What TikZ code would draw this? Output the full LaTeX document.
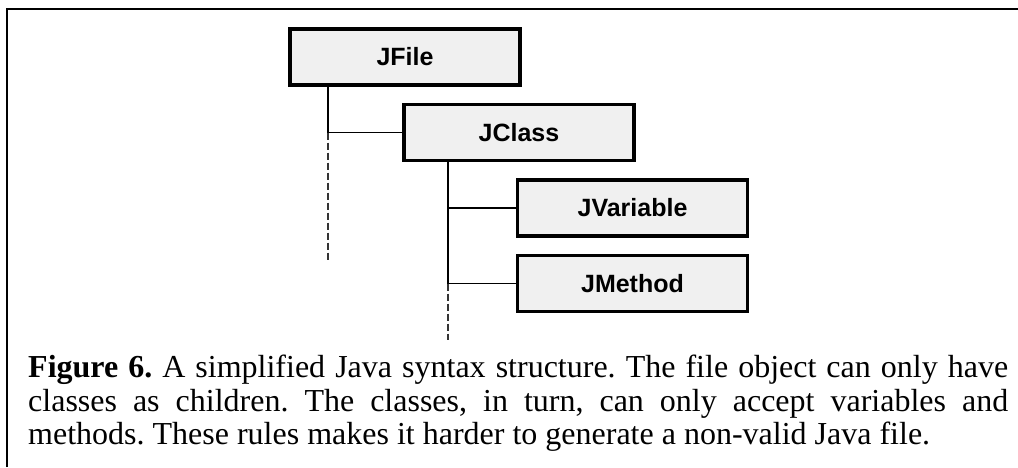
\documentclass[tikz,border=0pt]{standalone}
\usepackage{fontspec}
\setmainfont{Liberation Serif}
\newfontfamily\boxfont{Liberation Sans}
\usetikzlibrary{calc}

\begin{document}
\begin{tikzpicture}[x=1pt, y=-1pt,
    jbox/.style={draw, line width=3.5pt, fill=gray!12, inner sep=0pt,
        minimum width=230pt, minimum height=56pt,
        font=\boxfont\bfseries\fontsize{25}{30}\selectfont},
    link/.style={line width=1.5pt},
    open/.style={line width=1.5pt, dash pattern=on 7pt off 3pt, black!80}]
    \useasboundingbox (0,0) rectangle (1018,467);
    % frame
    \draw[line width=1.5pt] (7,467) -- (7,9) -- (1018,9);
    % the syntax tree
    \node[jbox] (jfile) at (405,57) {JFile};
    \node[jbox] (jclass) at (519,132.5) {JClass};
    \node[jbox] (jvar) at (632.5,208) {JVariable};
    \node[jbox] (jmethod) at (632.5,283.5) {JMethod};
    \coordinate (filefork) at (328,132.5);
    \coordinate (fileend) at (328,262);
    \coordinate (classfork) at (448,283.5);
    \coordinate (classend) at (448,340);
    \draw[link] (jfile.south -| filefork) -- (filefork) -- (jclass.west);
    \draw[open] (filefork) -- (fileend);
    \draw[link] (jclass.south -| classfork) -- (classfork) -- (jmethod.west);
    \draw[link] (jvar.west -| classfork) -- (jvar.west);
    \draw[open] (classfork) -- (classend);
    % caption
    \node[anchor=north west, inner sep=0pt, text width=980pt, align=justify,
        font=\fontsize{32}{33.5}\selectfont\frenchspacing] (caption) at (28,355)
        {\textbf{Figure 6.} A simplified Java syntax structure. The file object can only have\linebreak
        classes as children. The classes, in turn, can only accept variables and\linebreak
        methods. These rules makes it harder to generate a non-valid Java file.};
\end{tikzpicture}
\end{document}
